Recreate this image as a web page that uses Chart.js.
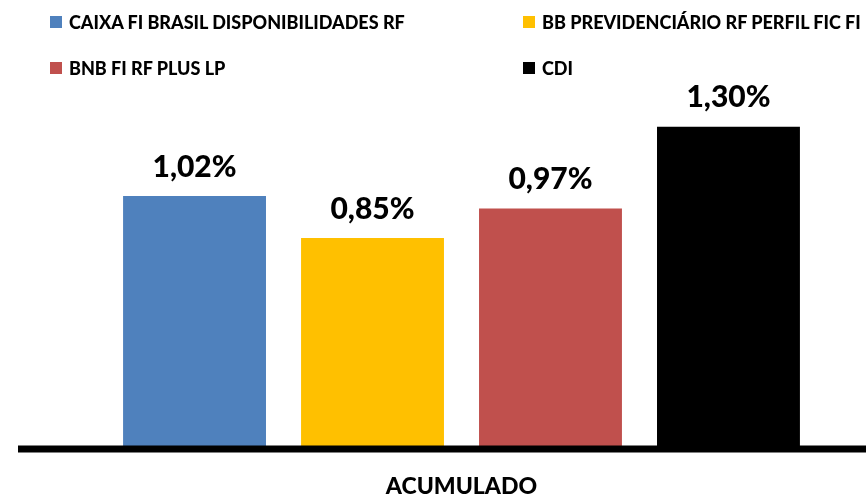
<!DOCTYPE html>
<html>
<head>
<meta charset="utf-8">
<script src="https://cdn.jsdelivr.net/npm/chart.js@4.4.1/dist/chart.umd.min.js"></script>
<style>
  body { margin: 0; background: #fff; }
  #wrap { position: relative; width: 866px; height: 497px; overflow: hidden; font-family: Lato, "Open Sans", sans-serif; }
  #chart { position: absolute; left: 0; top: 0; }
  .item { position: absolute; display: flex; align-items: center; font-weight: 900; font-size: 18px; color: #000; white-space: nowrap; }
  .box { width: 12px; height: 12px; margin-right: 7px; }
</style>
</head>
<body>
<div id="wrap">
  <canvas id="chart" width="866" height="497"></canvas>
  <div id="legend"></div>
</div>
<script>
// Data
const categories = ["ACUMULADO"];
const seriesNames = [
    "CAIXA FI BRASIL DISPONIBILIDADES RF",
    "BB PREVIDENCIÁRIO RF PERFIL FIC FI",
    "BNB FI RF PLUS LP",
    "CDI"
];
const seriesValues = [1.02, 0.85, 0.97, 1.30];
const seriesColors = ["#4F81BD", "#FFC000", "#C0504D", "#000000"];

// Legend (two columns, two rows)
const legend = document.getElementById("legend");
const colLeft = [50, 523];
const rowTop = [11, 57];
seriesNames.forEach((name, i) => {
    const item = document.createElement("div");
    item.className = "item";
    item.style.left = colLeft[i % 2] + "px";
    item.style.top = rowTop[Math.floor(i / 2)] + "px";
    item.innerHTML = '<span class="box" style="background:' + seriesColors[i] + '"></span>' + name;
    legend.appendChild(item);
});

function fmt(v) {
    return v.toFixed(2).replace(".", ",") + "%";
}

// Value labels above bars
const valueLabels = {
    id: "valueLabels",
    afterDatasetsDraw(chart) {
        const ctx = chart.ctx;
        ctx.save();
        ctx.font = "900 30px Lato, 'Open Sans', sans-serif";
        ctx.fillStyle = "#000";
        ctx.textAlign = "center";
        ctx.textBaseline = "bottom";
        chart.data.datasets.forEach((ds, i) => {
            chart.getDatasetMeta(i).data.forEach((bar, j) => {
                ctx.fillText(fmt(ds.data[j]), bar.x, bar.y - 14);
            });
        });
        ctx.restore();
    }
};

// Thick base line
const baseLine = {
    id: "baseLine",
    afterDatasetsDraw(chart) {
        const ctx = chart.ctx;
        const y = chart.scales.y.getPixelForValue(0);
        ctx.save();
        ctx.strokeStyle = "#000";
        ctx.lineWidth = 7;
        ctx.beginPath();
        ctx.moveTo(18, y + 0.5);
        ctx.lineTo(chart.width, y + 0.5);
        ctx.stroke();
        ctx.restore();
    }
};

const ctx = document.getElementById("chart").getContext("2d");
const chart = new Chart(ctx, {
    type: "bar",
    data: {
        labels: categories,
        datasets: seriesNames.map((name, i) => ({
            label: name,
            data: [seriesValues[i]],
            backgroundColor: seriesColors[i],
            categoryPercentage: 0.88,
            barPercentage: 0.803
        }))
    },
    options: {
        responsive: false,
        animation: false,
        layout: { padding: { left: 57, right: 0, top: 102, bottom: -27 } },
        plugins: {
            legend: { display: false },
            tooltip: { enabled: false }
        },
        scales: {
            y: { display: false, min: 0, max: 1.4 },
            x: {
                grid: { display: false, drawTicks: false },
                border: { display: false },
                ticks: {
                    color: "#000",
                    padding: 24,
                    font: { family: "Lato, 'Open Sans', sans-serif", size: 23, weight: "900" }
                }
            }
        }
    },
    plugins: [valueLabels, baseLine]
});
</script>
</body>
</html>
